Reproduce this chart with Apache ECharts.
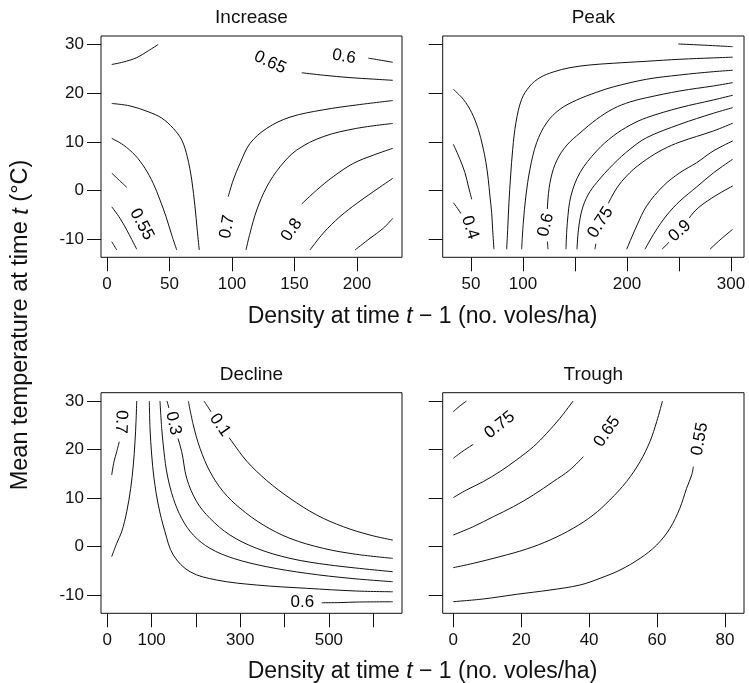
<!DOCTYPE html>
<html>
<head>
<meta charset="utf-8">
<title>Vole contours</title>
<script src="https://cdn.jsdelivr.net/npm/echarts@6/dist/echarts.min.js"></script>
<style>
  html, body { margin: 0; padding: 0; background: #fff; }
  #chart { width: 749px; height: 683px; }
</style>
</head>
<body>
<div id="chart"></div>
<script>
// tick values
const yTicks = [-10, 0, 10, 20, 30];
const increaseTicks = [0, 50, 100, 150, 200];
const peakTicks = [50, 100, 150, 200, 250, 300];
const peakTickLabels = [50, 100, 200, 300];
const declineTicks = [0, 100, 200, 300, 400, 500, 600];
const declineTickLabels = [0, 100, 300, 500];
const troughTicks = [0, 20, 40, 60, 80];

// contour lines, points are [density, temperature]
const increaseLines = [
  [[3.8, 25.9], [13, 26.4], [23.8, 27.3], [33, 28.7], [41, 30]],
  [[209, 27.2], [218.4, 26.8], [228.6, 26.35]],
  [[155.8, 24.2], [173, 23.7], [194.4, 23.2], [213, 22.9], [228.6, 22.65]],
  [[3.8, 17.9], [18.4, 17.4], [33, 16.2], [43.8, 14.9], [53, 12.8], [59.8, 10.4], [64.2, 7.0], [67.8, 2.2], [70.4, -3.3], [72.2, -8.1], [73.8, -12.15]],
  [[3.8, 10.75], [13, 9.4], [22.4, 7.3], [30.4, 4.6], [37, 1.5], [42.4, -1.9], [47.2, -5.3], [51.8, -9.1], [55.8, -12.15]],
  [[3.8, 3.6], [9, 2.35], [15.8, 0.7]],
  [[3.8, -3.3], [10.4, -5.65], [15.8, -8.05], [19.8, -10.0], [23.8, -12.0]],
  [[3.8, -10.45], [7.8, -12.15]],
  [[228.6, 18.5], [199.8, 17.6], [173, 16.6], [146.4, 15.1], [127.8, 12.8], [114.4, 9.7], [106.4, 5.6], [101, 2.2], [97, -1.2]],
  [[111.2, -12.15], [114.4, -8.7], [119.8, -3.95], [127.8, 0.8], [138.4, 4.9], [151.8, 8.35], [173, 11.1], [199.8, 12.8], [228.6, 13.8]],
  [[155.8, -2.7], [167.8, 0.15], [181, 2.9], [197, 5.6], [213, 7.3], [228.6, 8.7]],
  [[162.4, -12.15], [173, -8.7], [186.4, -5.3], [199.8, -2.6], [213, -0.2], [228.6, 2.55]],
  [[198.4, -12.15], [210.4, -9.75], [221, -7.7], [228.6, -5.65]]
];
const increaseLabels = [[189.6, 27.5, '0.6'], [130.4, 26.3, '0.65'], [27.8, -6.9, '0.55'], [96.2, -7.4, '0.7'], [147.8, -8.05, '0.8']];

const peakLines = [
  [[249.3, 30.1], [270.2, 29.9], [301.6, 29.55]],
  [[84.3, -12], [85.3, -7.9], [86.5, -2.44], [88.1, 3.03], [90.1, 8.51], [93.2, 13.96], [98.7, 18.76], [106.7, 21.49], [116.3, 23.2], [129.1, 24.36], [145.1, 25.24], [164.4, 25.8], [186.8, 26.15], [218.9, 26.56], [250.9, 26.97], [283, 27.25], [301.6, 27.4]],
  [[98.7, -12], [100.3, -6.55], [102.8, -1.07], [106.7, 4.41], [113.1, 9.86], [122.8, 13.96], [135.5, 16.71], [151.6, 18.6], [170.8, 20.2], [186.8, 21.3], [218.9, 22.87], [250.9, 23.75], [283, 24.42], [301.6, 24.71]],
  [[124, -12], [123, -7.0], [124, -1.69], [126.9, 2.62], [132.7, 6.31], [142.3, 9.39], [154.8, 11.85], [170.8, 14.66], [186.8, 16.83], [202.8, 18.21], [218.9, 19.09], [250.9, 20.47], [283, 21.49], [301.6, 22.17]],
  [[141.3, -12], [142.7, -6.4], [146.1, -1.07], [154.8, 3.71], [170.8, 8.16], [186.8, 11.24], [202.8, 13.43], [218.9, 14.99], [250.9, 17.04], [283, 18.62], [301.6, 19.58]],
  [[151.9, -12], [153.3, -8.05], [156.7, -3.94], [162.5, -0.87], [170.8, 1.66], [186.8, 5.43], [202.8, 8.51], [218.9, 10.89], [250.9, 13.63], [283, 15.89], [301.6, 17.04]],
  [[169.2, -12], [174.5, -6.51], [188.4, -0.05], [202.8, 3.71], [218.9, 6.45], [234.9, 8.51], [250.9, 10.0], [283, 12.26], [301.6, 13.84]],
  [[199.7, -12], [209.3, -7.23], [218.9, -3.12], [234.9, 0.98], [250.9, 3.71], [267, 5.76], [283, 8.16], [301.6, 10.21]],
  [[217.3, -12], [226.9, -8.45], [238.4, -4.97], [250.9, -2.1], [267, 0.78], [283, 3.65], [301.6, 6.45]],
  [[233.6, -12], [250.9, -8.25], [265.3, -4.15], [281.7, -1.48], [301.6, 0.98]],
  [[279.8, -12], [289.4, -10.1], [301.6, -7.9]],
  [[33, 20.81], [42.6, 18.76], [50.7, 16.01], [57, 12.61], [61.2, 9.19], [64.4, 5.76], [66.6, 2.35], [68.2, -1.07], [69.9, -4.5], [70.8, -7.9], [72.1, -12]],
  [[33, 9.53], [39.4, 6.45], [44.2, 3.71], [47.4, 0.98], [50.7, -1.75]],
  [[33, -2.44], [37, -3.6], [40.4, -4.7]]
];
const peakLabels = [[49, -7.53, '0.4'], [122, -7.0, '0.6'], [174.5, -6.51, '0.75'], [250.9, -8.25, '0.9']];

const declineLines = [
  [[9.9, 14.74], [15.1, 17.48], [21.2, 19.54], [27.1, 21.6]],
  [[9.9, -2.11], [21.2, 0.65], [32.5, 3.04], [43.8, 7.17], [52.8, 12.0], [58.7, 16.8], [62.5, 21.6], [64.8, 25.7], [66.4, 30.0]],
  [[94.8, 30], [96.4, 24.36], [100.2, 18.86], [105.4, 14.05], [115.1, 8.55], [130.2, 3.04], [149, -1.76], [186.6, -5.2], [246.9, -6.91], [337.2, -7.94], [450, -8.62], [562.9, -9.18], [644.1, -9.33]],
  [[118.9, 30], [122.8, 24.36], [127.9, 19.54], [135.4, 14.74], [149, 9.93], [167.9, 5.8], [194.1, 2.36], [231.8, -0.38], [284.4, -2.44], [359.8, -4.17], [450, -5.53], [547.8, -6.56], [644.1, -7.26]],
  [[134.7, 30], [149, 25.4], [167.9, 19.54], [179.2, 14.05], [201.8, 9.23], [231.8, 5.8], [276.9, 2.36], [337.2, -0.38], [412.3, -2.44], [502.6, -3.82], [644.1, -5.2]],
  [[182.8, 30], [194.1, 25.05], [209.2, 20.24], [231.8, 15.42], [261.8, 11.29], [299.5, 7.9], [352.1, 4.43], [412.3, 1.68], [487.5, -0.38], [562.9, -1.62], [644.1, -2.44]],
  [[218.2, 30], [254.3, 25.05], [280, 21.8], [314.6, 17.6], [359.8, 13.6], [412.3, 9.93], [472.6, 6.49], [532.7, 4.08], [592.9, 2.36], [644.1, 1.33]],
  [[483.9, -11.6], [525.2, -11.56], [562.9, -11.45], [644.1, -11.39]]
];
const declineLabels = [[30.9, 25.7, '0.7'], [149, 25.4, '0.3'], [254.3, 25.05, '0.1'], [440.1, -11.6, '0.6']];

const troughLines = [
  [[0, 27.8], [2, 29], [3.9, 30]],
  [[0, 18.18], [2.9, 19.69], [5.9, 21.07]],
  [[0, 10.07], [3.9, 11.65], [8.8, 13.37], [13.7, 15.43], [18.6, 17.84], [23.6, 20.58], [27.5, 23.33], [31.4, 26.43], [35.3, 30]],
  [[0, 2.37], [5.9, 4.09], [11.8, 6.15], [17.7, 8.21], [23.6, 10.62], [29.4, 13.37], [34.3, 15.77], [38.3, 18.52]],
  [[0, -4.36], [5.9, -3.47], [13.7, -2.1], [21.6, -0.52], [28.5, 1.34], [35.3, 3.75], [41.2, 6.49], [46.1, 9.59], [51, 13.37], [55, 17.49], [57.9, 21.62], [59.9, 25.74], [61.6, 30]],
  [[0, -11.37], [8.8, -10.82], [18.6, -9.86], [28.5, -8.97], [37.3, -7.94], [43.2, -6.56], [49.1, -4.85], [55, -2.44], [59.9, 0.31], [63.8, 3.75], [66.7, 7.87], [68.7, 11.99], [70.2, 14.74], [70.7, 16.46]]
];
const troughLabels = [[13.7, 25.05, '0.75'], [45.3, 23.68, '0.65'], [72.6, 22.16, '0.55']];

// label angles (degrees), same order as the label arrays
const labelAngles = [
  [-10, -25, -62, 80, 55],
  [-72, 76, 57, 42],
  [-92, -78, -55, 0],
  [38, 55, 80]
];

const FONT = "'Liberation Sans', Arial, Helvetica, sans-serif";
const INK = '#111';

const chart = echarts.init(document.getElementById('chart'), null, { renderer: 'canvas' });

const grids = [
  { left: 101, top: 36, width: 301, height: 221.3 },
  { left: 442.7, top: 36, width: 301.3, height: 221.3 },
  { left: 101, top: 392.7, width: 301, height: 220.6 },
  { left: 442.7, top: 392.7, width: 301.3, height: 220.6 }
].map(g => Object.assign(g, { show: true, borderColor: INK, borderWidth: 1, backgroundColor: 'transparent' }));

const makeX = (gridIndex, min, max, ticks, labels) => ({
  type: 'value',
  gridIndex,
  min,
  max,
  axisLine: { show: false, onZero: false },
  axisTick: { show: true, length: 14, customValues: ticks, lineStyle: { color: INK, width: 1 } },
  axisLabel: { customValues: labels, margin: 19, fontSize: 17, color: INK, fontFamily: FONT },
  splitLine: { show: false }
});

const makeY = (gridIndex, min, max, showLabels) => ({
  type: 'value',
  gridIndex,
  min,
  max,
  axisLine: { show: false, onZero: false },
  axisTick: { show: true, length: 14, customValues: yTicks, lineStyle: { color: INK, width: 1 } },
  axisLabel: { show: showLabels, customValues: yTicks, margin: 17, fontSize: 17, color: INK, fontFamily: FONT },
  splitLine: { show: false }
});

const panels = [increaseLines, peakLines, declineLines, troughLines];
const panelLabels = [increaseLabels, peakLabels, declineLabels, troughLabels];

const series = [];
panels.forEach((lines, p) => {
  lines.forEach(line => {
    series.push({
      type: 'line',
      xAxisIndex: p,
      yAxisIndex: p,
      data: line,
      showSymbol: false,
      smooth: 0.35,
      lineStyle: { color: INK, width: 1 },
      silent: true,
      z: 2
    });
  });
  series.push({
    type: 'scatter',
    xAxisIndex: p,
    yAxisIndex: p,
    symbolSize: 1,
    itemStyle: { color: 'transparent', opacity: 1 },
    silent: true,
    z: 5,
    data: panelLabels[p].map((l, k) => ({
      value: [l[0], l[1]],
      name: l[2],
      label: { rotate: labelAngles[p][k] }
    })),
    label: {
      show: true,
      position: 'inside',
      formatter: '{b}',
      fontSize: 17,
      color: '#000',
      opacity: 1,
      textBorderWidth: 0,
      fontFamily: FONT,
      backgroundColor: '#fff',
      padding: [0, 4]
    }
  });
});

const text = (x, y, str, size, extra) => Object.assign({
  type: 'text',
  x,
  y,
  silent: true,
  style: {
    text: str,
    fontSize: size,
    fontFamily: FONT,
    fill: INK,
    align: 'center',
    verticalAlign: 'middle',
    rich: { i: { fontStyle: 'italic', fontSize: size, fontFamily: FONT, fill: INK } }
  }
}, extra || {});

const xTitle = 'Density at time {i|t} \u2212 1 (no. voles/ha)';

chart.setOption({
  animation: false,
  backgroundColor: '#fff',
  grid: grids,
  xAxis: [
    makeX(0, -4.8, 236, increaseTicks, increaseTicks),
    makeX(1, 22.8, 312.5, peakTicks, peakTickLabels),
    makeX(2, -14.2, 665, declineTicks, declineTickLabels),
    makeX(3, -3.1, 85.6, troughTicks, troughTicks)
  ],
  yAxis: [
    makeY(0, -13.65, 31.74, true),
    makeY(1, -13.65, 31.74, false),
    makeY(2, -13.77, 31.71, true),
    makeY(3, -13.77, 31.71, false)
  ],
  series,
  graphic: [
    text(251.5, 18, 'Increase', 19),
    text(593.3, 18, 'Peak', 19),
    text(251.5, 375, 'Decline', 19),
    text(593.3, 375, 'Trough', 19),
    text(422.5, 317, xTitle, 23),
    text(422.5, 672, xTitle, 23),
    text(21, 325, 'Mean temperature at time {i|t} (\u00b0C)', 23.5, { rotation: Math.PI / 2 })
  ]
});
</script>
</body>
</html>
